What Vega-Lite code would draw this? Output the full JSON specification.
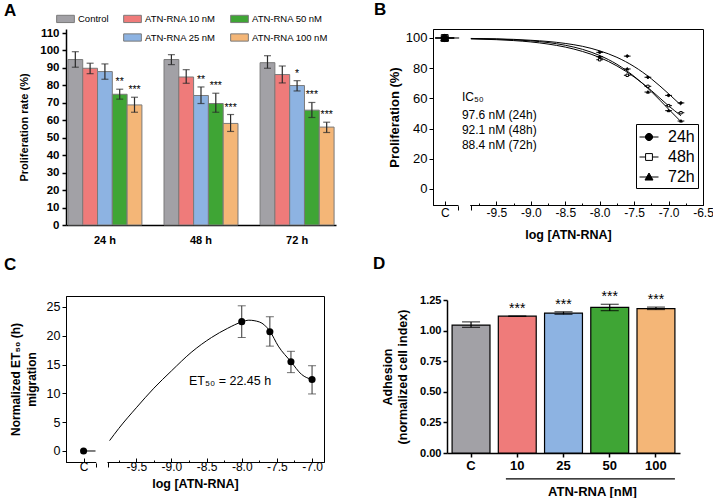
{
  "$schema": "https://vega.github.io/schema/vega-lite/v6.json",
  "padding": {"left": 3, "top": 0, "right": 0, "bottom": 0},
  "background": "white",
  "config": {
    "font": "Liberation Sans",
    "view": {"stroke": null},
    "axis": {"domainColor": "black", "tickColor": "black", "labelColor": "black", "titleColor": "black", "grid": false, "labelFont": "Liberation Sans", "titleFont": "Liberation Sans", "tickCount": 100, "labelOverlap": false},
    "legend": {"labelFont": "Liberation Sans", "labelColor": "black"},
    "title": {"fontSize": 17, "fontWeight": "bold", "anchor": "start", "frame": "group", "color": "black", "offset": 0},
    "text": {"font": "Liberation Sans", "color": "black"}
  },
  "columns": 2,
  "align": "none",
  "bounds": "full",
  "spacing": {"row": 10, "column": 37},
  "resolve": {"scale": {"color": "independent", "stroke": "independent", "shape": "independent", "fill": "independent", "x": "independent", "y": "independent"}},
  "concat": [
    {
      "width": 270, "height": 196,
      "title": {"text": "A", "dx": -62, "dy": 15},
      "data": {"values": [
        {"time": "24 h", "group": "Control", "value": 94.8, "lo": 90.4, "hi": 99.3, "sig": ""},
        {"time": "24 h", "group": "ATN-RNA 10 nM", "value": 89.8, "lo": 86.7, "hi": 92.7, "sig": ""},
        {"time": "24 h", "group": "ATN-RNA 25 nM", "value": 87.9, "lo": 83.5, "hi": 92.3, "sig": ""},
        {"time": "24 h", "group": "ATN-RNA 50 nM", "value": 74.9, "lo": 72.1, "hi": 77.8, "sig": "**"},
        {"time": "24 h", "group": "ATN-RNA 100 nM", "value": 68.8, "lo": 64.6, "hi": 73.2, "sig": "***"},
        {"time": "48 h", "group": "Control", "value": 94.8, "lo": 91.9, "hi": 97.6, "sig": ""},
        {"time": "48 h", "group": "ATN-RNA 10 nM", "value": 84.8, "lo": 81.2, "hi": 89.0, "sig": ""},
        {"time": "48 h", "group": "ATN-RNA 25 nM", "value": 74.2, "lo": 69.6, "hi": 79.1, "sig": "**"},
        {"time": "48 h", "group": "ATN-RNA 50 nM", "value": 69.6, "lo": 64.6, "hi": 75.5, "sig": "***"},
        {"time": "48 h", "group": "ATN-RNA 100 nM", "value": 58.2, "lo": 53.6, "hi": 63.3, "sig": "***"},
        {"time": "72 h", "group": "Control", "value": 93.0, "lo": 89.8, "hi": 97.0, "sig": ""},
        {"time": "72 h", "group": "ATN-RNA 10 nM", "value": 86.2, "lo": 81.4, "hi": 91.1, "sig": ""},
        {"time": "72 h", "group": "ATN-RNA 25 nM", "value": 79.9, "lo": 76.8, "hi": 82.7, "sig": "*"},
        {"time": "72 h", "group": "ATN-RNA 50 nM", "value": 65.8, "lo": 61.6, "hi": 70.2, "sig": "***"},
        {"time": "72 h", "group": "ATN-RNA 100 nM", "value": 56.1, "lo": 53.0, "hi": 58.9, "sig": "***"}
      ]},
      "encoding": {
        "x": {"field": "time", "type": "nominal", "sort": ["24 h", "48 h", "72 h"], "scale": {"paddingInner": 0.23, "paddingOuter": 0.02},
              "axis": {"title": null, "labelAngle": 0, "ticks": false, "labelFontSize": 11, "labelFontWeight": "bold", "labelPadding": 9, "domainWidth": 1.5}},
        "xOffset": {"field": "group", "type": "nominal", "sort": ["Control", "ATN-RNA 10 nM", "ATN-RNA 25 nM", "ATN-RNA 50 nM", "ATN-RNA 100 nM"], "scale": {"paddingInner": 0, "paddingOuter": 0}}
      },
      "layer": [
        {
          "mark": {"type": "bar", "strokeWidth": 1},
          "encoding": {
            "y": {"field": "value", "type": "quantitative", "scale": {"domain": [0, 112.3], "nice": false},
                  "axis": {"title": "Proliferation rate (%)", "values": [0, 10, 20, 30, 40, 50, 60, 70, 80, 90, 100, 110], "labelFontSize": 11.5, "labelFontWeight": "bold", "titleFontSize": 11, "titleFontWeight": "bold", "tickSize": 4, "labelPadding": 3, "titlePadding": 10, "domainWidth": 1.5, "tickWidth": 1.5}},
            "color": {"field": "group", "type": "nominal",
                      "scale": {"domain": ["Control", " ", "ATN-RNA 10 nM", "ATN-RNA 25 nM", "ATN-RNA 50 nM", "ATN-RNA 100 nM"], "range": ["#a2a1a6", "rgba(0,0,0,0)", "#ef7b7a", "#8db3e2", "#3fa535", "#f4b677"]},
                      "legend": {"title": null, "orient": "none", "legendX": -10, "legendY": -20, "columns": 3, "gridAlign": "each", "symbolType": "M-1,-0.41H1V0.41H-1Z", "symbolSize": 313, "labelFontSize": 9.5, "columnPadding": 12, "rowPadding": 3, "labelOffset": 3, "symbolStrokeWidth": 1,
                                 "labelExpr": "datum.label == 'ATN-RNA 10 nM' ? datum.label + '          ' : datum.label"}},
            "stroke": {"field": "group", "type": "nominal",
                      "scale": {"domain": ["Control", " ", "ATN-RNA 10 nM", "ATN-RNA 25 nM", "ATN-RNA 50 nM", "ATN-RNA 100 nM"], "range": ["#7a7a7a", "rgba(0,0,0,0)", "#7a7a7a", "#7a7a7a", "#7a7a7a", "#7a7a7a"]},
                      "legend": {"title": null, "orient": "none", "legendX": -10, "legendY": -20, "columns": 3, "gridAlign": "each", "symbolType": "M-1,-0.41H1V0.41H-1Z", "symbolSize": 313, "labelFontSize": 9.5, "columnPadding": 12, "rowPadding": 3, "labelOffset": 3, "symbolStrokeWidth": 1,
                                 "labelExpr": "datum.label == 'ATN-RNA 10 nM' ? datum.label + '          ' : datum.label"}}
          }
        },
        {"mark": {"type": "rule", "color": "#2a2a2a", "strokeWidth": 1.2}, "encoding": {"y": {"field": "lo", "type": "quantitative"}, "y2": {"field": "hi"}}},
        {"mark": {"type": "tick", "color": "#2a2a2a", "size": 7, "thickness": 1.2, "orient": "horizontal"}, "encoding": {"y": {"field": "lo", "type": "quantitative"}}},
        {"mark": {"type": "tick", "color": "#2a2a2a", "size": 7, "thickness": 1.2, "orient": "horizontal"}, "encoding": {"y": {"field": "hi", "type": "quantitative"}}},
        {"mark": {"type": "text", "fontSize": 10.5, "dy": -4, "baseline": "alphabetic", "color": "black"}, "encoding": {"y": {"field": "hi", "type": "quantitative"}, "text": {"field": "sig"}}}
      ]
    },
    {
      "width": 270, "height": 176,
      "title": {"text": "B", "dx": -59, "dy": -6},
      "view": {"stroke": "black", "strokeWidth": 1},
      "resolve": {"scale": {"shape": "independent", "fill": "independent", "stroke": "independent"}},
      "layer": [
        {
          "data": {"values": [
            {"series": "24h", "x": -9.87, "y": 99.7}, {"series": "24h", "x": -9.5, "y": 99.4}, {"series": "24h", "x": -9.25, "y": 99.1}, {"series": "24h", "x": -9.0, "y": 98.5}, {"series": "24h", "x": -8.75, "y": 97.7}, {"series": "24h", "x": -8.5, "y": 96.4}, {"series": "24h", "x": -8.25, "y": 94.5}, {"series": "24h", "x": -8.0, "y": 91.5}, {"series": "24h", "x": -7.75, "y": 87.2}, {"series": "24h", "x": -7.5, "y": 81.1}, {"series": "24h", "x": -7.25, "y": 73.0}, {"series": "24h", "x": -7.0, "y": 63.1}, {"series": "24h", "x": -6.82, "y": 55.5},
            {"series": "48h", "x": -9.87, "y": 99.4}, {"series": "48h", "x": -9.5, "y": 98.9}, {"series": "48h", "x": -9.25, "y": 98.3}, {"series": "48h", "x": -9.0, "y": 97.4}, {"series": "48h", "x": -8.75, "y": 96.0}, {"series": "48h", "x": -8.5, "y": 94.0}, {"series": "48h", "x": -8.25, "y": 91.1}, {"series": "48h", "x": -8.0, "y": 87.1}, {"series": "48h", "x": -7.75, "y": 81.5}, {"series": "48h", "x": -7.5, "y": 74.2}, {"series": "48h", "x": -7.25, "y": 65.2}, {"series": "48h", "x": -7.0, "y": 55.1}, {"series": "48h", "x": -6.82, "y": 48.5},
            {"series": "72h", "x": -9.87, "y": 99.6}, {"series": "72h", "x": -9.5, "y": 99.3}, {"series": "72h", "x": -9.25, "y": 98.8}, {"series": "72h", "x": -9.0, "y": 98.1}, {"series": "72h", "x": -8.75, "y": 97.0}, {"series": "72h", "x": -8.5, "y": 95.2}, {"series": "72h", "x": -8.25, "y": 92.5}, {"series": "72h", "x": -8.0, "y": 88.4}, {"series": "72h", "x": -7.75, "y": 82.6}, {"series": "72h", "x": -7.5, "y": 74.6}, {"series": "72h", "x": -7.25, "y": 64.5}, {"series": "72h", "x": -7.0, "y": 52.9}, {"series": "72h", "x": -6.82, "y": 44.6}
          ]},
          "mark": {"type": "line", "color": "black", "strokeWidth": 1, "interpolate": "monotone"},
          "encoding": {
            "x": {"field": "x", "type": "quantitative", "scale": {"domain": [-10.42, -6.5], "nice": false, "zero": false},
                  "axis": {"title": "log [ATN-RNA]", "titleFontSize": 12.5, "titleFontWeight": "bold", "titlePadding": 1,
                           "values": [-10.25, -10.06, -9.87, -9.75, -9.5, -9.25, -9, -8.75, -8.5, -8.25, -8, -7.75, -7.5, -7.25, -7, -6.75, -6.5],
                           "labelExpr": "datum.value < -10.1 ? 'C' : datum.value < -9.8 ? '' : abs(datum.value*2 - round(datum.value*2)) < 0.01 ? replace(format(datum.value, '.1f'), '−', '-') : ''",
                           "labelFontSize": 12, "labelPadding": 6, "labelBound": false, "labelFlush": false, "zindex": 0,
                           "tickSize": {"condition": [{"test": "datum.value > -10.1 && datum.value < -9.8", "value": 5}, {"test": "datum.value < -10.1 || abs(datum.value*2 - round(datum.value*2)) < 0.01", "value": -4}], "value": -2}}},
            "y": {"field": "y", "type": "quantitative", "scale": {"domain": [-10.6, 105.96], "nice": false, "zero": false},
                  "axis": {"title": "Proliferation (%)", "values": [0, 20, 40, 60, 80, 100], "labelFontSize": 13, "titleFontSize": 13, "titleFontWeight": "bold", "tickSize": 4, "labelPadding": 2, "titlePadding": 4, "zindex": 0}},
            "detail": {"field": "series"}
          }
        },
        {"data": {"values": [{}]}, "mark": {"type": "rule", "color": "black", "strokeWidth": 1}, "encoding": {"x": {"datum": -10.25}, "x2": {"datum": -10.04}, "y": {"datum": 100}}},
        {"data": {"values": [{}]}, "mark": {"type": "rule", "color": "white", "strokeWidth": 3}, "encoding": {"x": {"datum": -10.05}, "x2": {"datum": -9.88}, "y": {"datum": -10.6}}},
        {
          "data": {"values": [
            {"series": "48h", "x": -10.25, "y": 100}, {"series": "24h", "x": -10.25, "y": 100}, {"series": "72h", "x": -10.25, "y": 100},
            {"series": "24h", "x": -8.0, "y": 90.5}, {"series": "24h", "x": -7.6, "y": 88.0}, {"series": "24h", "x": -7.3, "y": 74.0}, {"series": "24h", "x": -7.0, "y": 62.0}, {"series": "24h", "x": -6.82, "y": 57.0},
            {"series": "48h", "x": -8.0, "y": 85.6}, {"series": "48h", "x": -7.6, "y": 75.3}, {"series": "48h", "x": -7.3, "y": 68.0}, {"series": "48h", "x": -7.0, "y": 55.2}, {"series": "48h", "x": -6.82, "y": 50.5},
            {"series": "72h", "x": -8.0, "y": 87.6}, {"series": "72h", "x": -7.6, "y": 79.5}, {"series": "72h", "x": -7.3, "y": 64.2}, {"series": "72h", "x": -7.0, "y": 51.9}, {"series": "72h", "x": -6.82, "y": 45.0}
          ]},
          "layer": [
            {
              "transform": [{"filter": "datum.x < -10"}],
              "mark": {"type": "point", "filled": false, "size": 361, "strokeWidth": 1, "opacity": 1},
              "encoding": {
                "x": {"field": "x", "type": "quantitative"},
                "y": {"field": "y", "type": "quantitative"},
                "shape": {"field": "series", "type": "nominal", "scale": {"domain": ["24h", "48h", "72h"], "range": ["M-1,0H1M-0.38,0A0.38,0.38,0,1,1,0.38,0A0.38,0.38,0,1,1,-0.38,0Z", "M-1,0H-0.36M0.36,0H1M-0.36,-0.36H0.36V0.36H-0.36Z", "M-1,0H1M0,-0.42L0.42,0.32H-0.42Z"]},
                          "legend": {"title": null, "orient": "none", "legendX": 203, "legendY": 95, "strokeColor": "black", "fillColor": "white", "padding": 3, "labelFontSize": 16, "symbolSize": 361, "symbolStrokeColor": "black", "symbolStrokeWidth": 1, "labelOffset": 9, "rowPadding": 2}},
                "fill": {"field": "series", "type": "nominal", "scale": {"domain": ["24h", "48h", "72h"], "range": ["black", "white", "black"]},
                         "legend": {"title": null, "orient": "none", "legendX": 203, "legendY": 95, "strokeColor": "black", "fillColor": "white", "padding": 3, "labelFontSize": 16, "symbolSize": 361, "symbolStrokeColor": "black", "symbolStrokeWidth": 1, "labelOffset": 9, "rowPadding": 2}},
                "stroke": {"field": "series", "type": "nominal", "scale": {"domain": ["24h", "48h", "72h"], "range": ["black", "black", "black"]},
                           "legend": {"title": null, "orient": "none", "legendX": 203, "legendY": 95, "strokeColor": "black", "fillColor": "white", "padding": 3, "labelFontSize": 16, "symbolSize": 361, "symbolStrokeColor": "black", "symbolStrokeWidth": 1, "labelOffset": 9, "rowPadding": 2}}
              }
            },
            {
              "transform": [{"filter": "datum.x > -10"}],
              "mark": {"type": "point", "filled": true, "size": 45, "stroke": "black", "strokeWidth": 1, "opacity": 1},
              "encoding": {
                "x": {"field": "x", "type": "quantitative"},
                "y": {"field": "y", "type": "quantitative"},
                "shape": {"field": "series", "type": "nominal", "scale": {"domain": ["24h", "48h", "72h"], "range": ["circle", "square", "triangle-up"]}, "legend": null},
                "fill": {"field": "series", "type": "nominal", "scale": {"domain": ["24h", "48h", "72h"], "range": ["black", "white", "black"]}, "legend": null}
              }
            }
          ]
        },
        {
          "data": {"values": [
            {"label": "IC₅₀", "x": -10.0, "y": 61},
            {"label": "97.6 nM (24h)", "x": -10.0, "y": 49},
            {"label": "92.1 nM (48h)", "x": -10.0, "y": 39},
            {"label": "88.4 nM (72h)", "x": -10.0, "y": 29}
          ]},
          "mark": {"type": "text", "align": "left", "baseline": "middle", "fontSize": 12, "color": "black"},
          "encoding": {"x": {"field": "x", "type": "quantitative"}, "y": {"field": "y", "type": "quantitative"}, "text": {"field": "label"}}
        }
      ]
    },
    {
      "width": 258, "height": 166,
      "title": {"text": "C", "dx": -62, "dy": -18},
      "view": {"stroke": "black", "strokeWidth": 1},
      "layer": [
        {
          "data": {"values": [
            {"x": -9.88, "y": 1.8}, {"x": -9.75, "y": 3.9}, {"x": -9.5, "y": 7.5}, {"x": -9.25, "y": 10.9}, {"x": -9.0, "y": 13.9}, {"x": -8.72, "y": 17.1}, {"x": -8.43, "y": 19.7}, {"x": -8.2, "y": 21.3}, {"x": -8.0, "y": 22.4}, {"x": -7.9, "y": 22.7}, {"x": -7.75, "y": 22.4}, {"x": -7.6, "y": 20.8}, {"x": -7.48, "y": 18.2}, {"x": -7.3, "y": 15.5}, {"x": -7.15, "y": 13.3}, {"x": -7.0, "y": 12.4}
          ]},
          "mark": {"type": "line", "color": "black", "strokeWidth": 1, "interpolate": "monotone"},
          "encoding": {
            "x": {"field": "x", "type": "quantitative", "scale": {"domain": [-10.5, -6.83], "nice": false, "zero": false},
                  "axis": {"title": "log [ATN-RNA]", "titleFontSize": 12.5, "titleFontWeight": "bold", "titlePadding": -4,
                           "values": [-10.25, -10.08, -9.9, -9.75, -9.5, -9.25, -9, -8.75, -8.5, -8.25, -8, -7.75, -7.5, -7.25, -7],
                           "labelExpr": "datum.value < -10.15 ? 'C' : datum.value < -9.8 ? '' : abs(datum.value*2 - round(datum.value*2)) < 0.01 ? replace(format(datum.value, '.1f'), '−', '-') : ''",
                           "labelFontSize": 12, "labelPadding": 3, "labelBound": false, "labelFlush": false, "zindex": 0,
                           "tickSize": {"condition": [{"test": "datum.value > -10.15 && datum.value < -9.8", "value": 5}, {"test": "datum.value < -10.15 || abs(datum.value*2 - round(datum.value*2)) < 0.01", "value": -4}], "value": -2}}},
            "y": {"field": "y", "type": "quantitative", "scale": {"domain": [-1.91, 26.9], "nice": false, "zero": false},
                  "axis": {"title": ["Normalized ET₅₀ (h)", "migration"], "values": [0, 5, 10, 15, 20, 25], "format": "d", "labelFontSize": 12.5, "titleFontSize": 12, "titleFontWeight": "bold", "titleLineHeight": 16, "tickSize": 4, "labelPadding": 2, "titlePadding": 8, "zindex": 0}}
          }
        },
        {"data": {"values": [{}]}, "mark": {"type": "rule", "color": "black", "strokeWidth": 1}, "encoding": {"x": {"datum": -10.25}, "x2": {"datum": -10.08}, "y": {"datum": 0}}},
        {"data": {"values": [{}]}, "mark": {"type": "rule", "color": "white", "strokeWidth": 3}, "encoding": {"x": {"datum": -10.07}, "x2": {"datum": -9.91}, "y": {"datum": -1.91}}},
        {
          "data": {"values": [
            {"x": -10.25, "y": 0, "lo": 0, "hi": 0},
            {"x": -8.0, "y": 22.45, "lo": 19.7, "hi": 25.2},
            {"x": -7.6, "y": 20.7, "lo": 18.2, "hi": 23.3},
            {"x": -7.3, "y": 15.5, "lo": 13.6, "hi": 17.3},
            {"x": -7.0, "y": 12.4, "lo": 9.9, "hi": 14.8}
          ]},
          "layer": [
            {"transform": [{"filter": "datum.x > -10"}], "mark": {"type": "rule", "color": "#333", "strokeWidth": 1}, "encoding": {"x": {"field": "x", "type": "quantitative"}, "y": {"field": "lo", "type": "quantitative"}, "y2": {"field": "hi"}}},
            {"transform": [{"filter": "datum.x > -10"}], "mark": {"type": "tick", "color": "#333", "size": 8, "thickness": 1, "orient": "horizontal"}, "encoding": {"x": {"field": "x", "type": "quantitative"}, "y": {"field": "lo", "type": "quantitative"}}},
            {"transform": [{"filter": "datum.x > -10"}], "mark": {"type": "tick", "color": "#333", "size": 8, "thickness": 1, "orient": "horizontal"}, "encoding": {"x": {"field": "x", "type": "quantitative"}, "y": {"field": "hi", "type": "quantitative"}}},
            {"mark": {"type": "point", "filled": true, "size": 50, "color": "black", "opacity": 1}, "encoding": {"x": {"field": "x", "type": "quantitative"}, "y": {"field": "y", "type": "quantitative"}}}
          ]
        },
        {
          "data": {"values": [{"label": "ET₅₀ = 22.45 h", "x": -8.75, "y": 12.2}]},
          "mark": {"type": "text", "align": "left", "baseline": "middle", "fontSize": 12.5, "color": "black"},
          "encoding": {"x": {"field": "x", "type": "quantitative"}, "y": {"field": "y", "type": "quantitative"}, "text": {"field": "label"}}
        }
      ]
    },
    {
      "width": 233, "height": 153,
      "title": {"text": "D", "dx": -74, "dy": -13},
      "data": {"values": [
        {"dose": "C", "value": 1.045, "lo": 1.027, "hi": 1.071, "sig": ""},
        {"dose": "10", "value": 1.118, "lo": 1.117, "hi": 1.119, "sig": "***"},
        {"dose": "25", "value": 1.143, "lo": 1.133, "hi": 1.154, "sig": "***"},
        {"dose": "50", "value": 1.19, "lo": 1.163, "hi": 1.215, "sig": "***"},
        {"dose": "100", "value": 1.18, "lo": 1.172, "hi": 1.192, "sig": "***"}
      ]},
      "encoding": {
        "x": {"field": "dose", "type": "nominal", "scale": {"domain": ["C", "10", "25", "50", "100"], "paddingInner": 0.18, "paddingOuter": 0.11},
              "axis": {"title": "ATN-RNA [nM]", "labelAngle": 0, "labelFontSize": 13, "labelFontWeight": "bold", "tickSize": 4, "tickWidth": 1.5, "labelPadding": 2, "titleFontSize": 13, "titleFontWeight": "bold", "titleX": 145, "titleY": 32, "titleBaseline": "top", "domainWidth": 1.5}}
      },
      "layer": [
        {
          "mark": {"type": "bar", "stroke": "black", "strokeWidth": 1.2},
          "encoding": {
            "y": {"field": "value", "type": "quantitative", "scale": {"domain": [0, 1.25], "nice": false},
                  "axis": {"title": ["Adhesion", "(normalized cell index)"], "values": [0, 0.25, 0.5, 0.75, 1, 1.25], "format": ".2f", "labelFontSize": 11, "labelFontWeight": "bold", "titleFontSize": 12.5, "titleFontWeight": "bold", "titleLineHeight": 15, "tickSize": 4, "tickWidth": 1.5, "labelPadding": 2, "titlePadding": 10, "domainWidth": 1.5}},
            "color": {"field": "dose", "type": "nominal", "scale": {"domain": ["C", "10", "25", "50", "100"], "range": ["#a2a1a6", "#ef7b7a", "#8db3e2", "#3fa535", "#f4b677"]}, "legend": null}
          }
        },
        {"mark": {"type": "rule", "color": "black", "strokeWidth": 1.2}, "encoding": {"y": {"field": "lo", "type": "quantitative"}, "y2": {"field": "hi"}}},
        {"mark": {"type": "tick", "color": "black", "size": 18, "thickness": 1.2, "orient": "horizontal"}, "encoding": {"y": {"field": "lo", "type": "quantitative"}}},
        {"mark": {"type": "tick", "color": "black", "size": 18, "thickness": 1.2, "orient": "horizontal"}, "encoding": {"y": {"field": "hi", "type": "quantitative"}}},
        {"mark": {"type": "text", "fontSize": 14, "dy": -3, "baseline": "alphabetic", "color": "black"}, "encoding": {"y": {"field": "hi", "type": "quantitative"}, "text": {"field": "sig"}}},
        {
          "data": {"values": [{"dose": "10", "dose2": "100"}]},
          "mark": {"type": "rule", "color": "black", "strokeWidth": 1.2},
          "encoding": {"x": {"field": "dose", "type": "nominal", "bandPosition": 0.2}, "x2": {"field": "dose2", "bandPosition": 1}, "y": {"datum": -0.212}}
        }
      ]
    }
  ]
}
